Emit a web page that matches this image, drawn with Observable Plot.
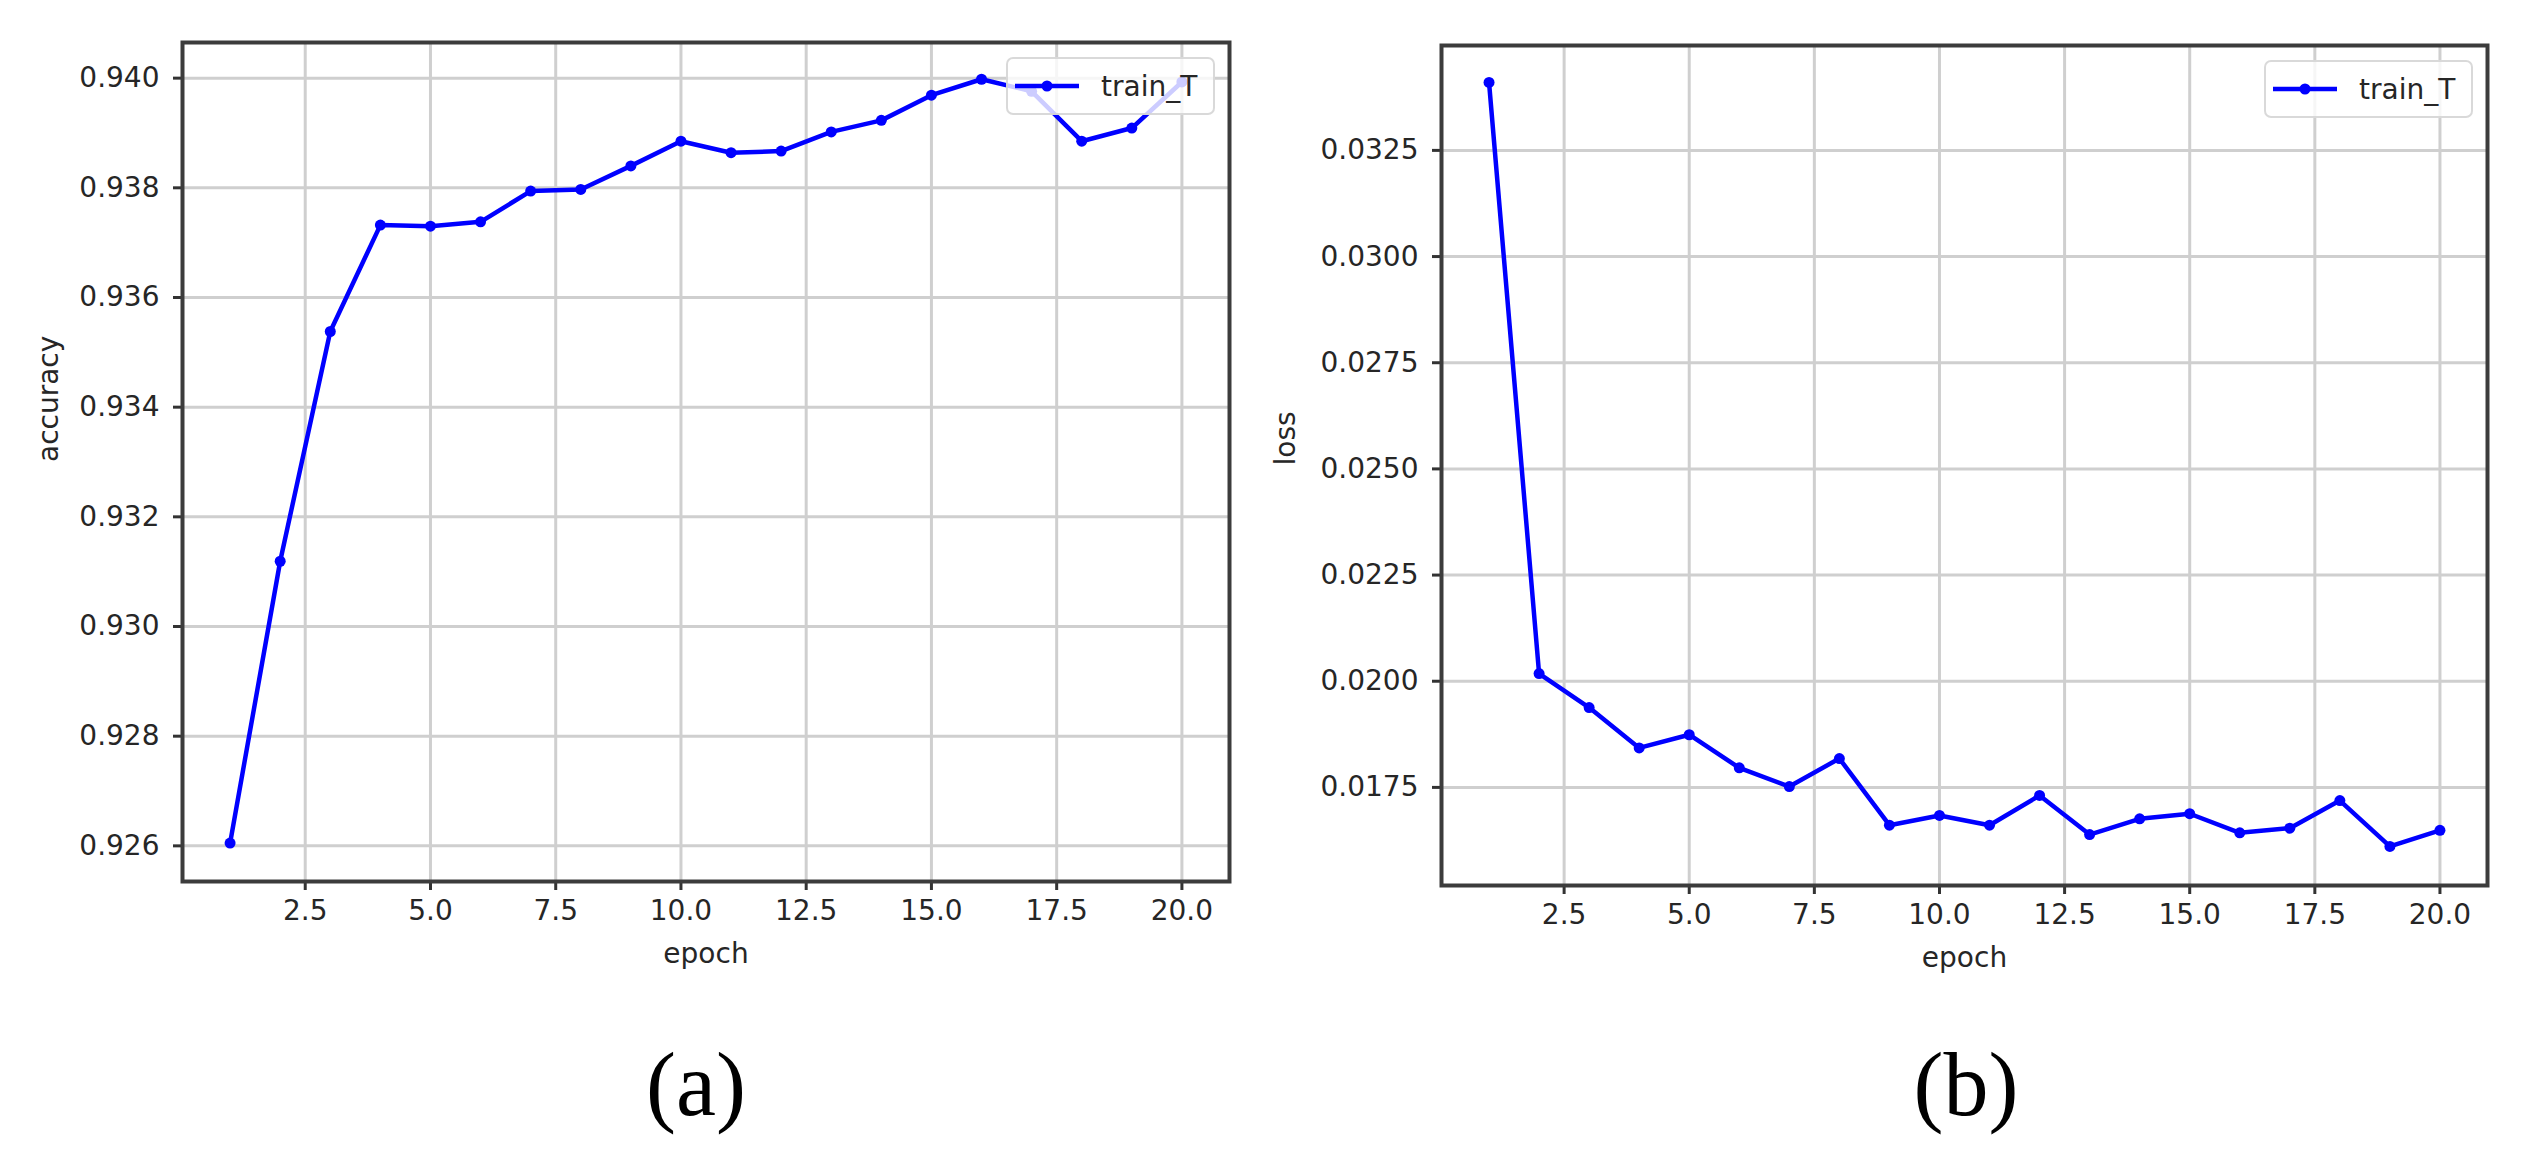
<!DOCTYPE html>
<html>
<head>
<meta charset="utf-8">
<script src="https://cdn.jsdelivr.net/npm/d3@7"></script>
<script src="https://cdn.jsdelivr.net/npm/@observablehq/plot@0.6"></script>
<style>
html, body { margin: 0; padding: 0; background: #fff; overflow: hidden; }
#page { position: relative; width: 2528px; height: 1153px; overflow: hidden; font-family: "DejaVu Sans", sans-serif; }
.panel { position: absolute; top: 0; }
.legend { position: absolute; box-sizing: border-box; background: rgba(255,255,255,0.8); border: 2px solid rgba(210,210,210,0.85); border-radius: 7px; display: flex; align-items: center; font: 28px "DejaVu Sans", sans-serif; color: #262626; }
.caption { position: absolute; font-family: "Liberation Serif", "Times New Roman", serif; font-size: 90px; line-height: 90px; color: #000; transform: translateX(-50%); white-space: nowrap; }
</style>
</head>
<body>
<div id="page"></div>
<script>
// ---- data ----
const epochs = [1, 2, 3, 4, 5, 6, 7, 8, 9, 10, 11, 12, 13, 14, 15, 16, 17, 18, 19, 20];
const accuracy = [0.92605, 0.93119, 0.93538, 0.93732, 0.93730, 0.93738, 0.93794, 0.93797, 0.93840, 0.93885,
                  0.93864, 0.93867, 0.93902, 0.93923, 0.93969, 0.93998, 0.93976, 0.93885, 0.93909, 0.93993];
const loss = [0.03410, 0.02018, 0.01938, 0.01843, 0.01874, 0.01796, 0.01752, 0.01818, 0.01661, 0.01684,
              0.01661, 0.01731, 0.01639, 0.01676, 0.01688, 0.01643, 0.01654, 0.01719, 0.01611, 0.01649];
const xTicks = [2.5, 5.0, 7.5, 10.0, 12.5, 15.0, 17.5, 20.0];
const accTicks = [0.926, 0.928, 0.930, 0.932, 0.934, 0.936, 0.938, 0.940];
const lossTicks = [0.0175, 0.0200, 0.0225, 0.0250, 0.0275, 0.0300, 0.0325];
const seriesName = "train_T";
const xLabel = "epoch";
const yLabels = ["accuracy", "loss"];
const captions = ["(a)", "(b)"];

const page = document.getElementById("page");
const BLUE = "#0000ff";
const TEXT = "#262626";
const GRID = "#cfcfcf";

function panel(cfg) {
  const data = epochs.map((e, i) => ({epoch: e, value: cfg.values[i]}));
  const chart = Plot.plot({
    width: cfg.width, height: cfg.height,
    marginLeft: cfg.mL, marginRight: cfg.mR, marginTop: cfg.mT, marginBottom: cfg.mB,
    style: {fontFamily: "DejaVu Sans, sans-serif", fontSize: "28px", color: TEXT, background: "transparent", overflow: "visible"},
    x: {domain: [0.05, 20.95]},
    y: {domain: cfg.yDomain},
    marks: [
      Plot.gridX(xTicks, {stroke: GRID, strokeOpacity: 1, strokeWidth: 3}),
      Plot.gridY(cfg.yTicks, {stroke: GRID, strokeOpacity: 1, strokeWidth: 3}),
      Plot.axisX(xTicks, {tickFormat: d => d.toFixed(1), tickSize: 9, tickPadding: 10, strokeWidth: 3, stroke: "#333", label: null, fontSize: 28, fill: TEXT}),
      Plot.axisY(cfg.yTicks, {tickFormat: cfg.yFmt, tickSize: 9, tickPadding: 14, strokeWidth: 3, stroke: "#333", label: null, fontSize: 28, fill: TEXT}),
      Plot.line(data, {x: "epoch", y: "value", stroke: BLUE, strokeWidth: 4.5}),
      Plot.dot(data, {x: "epoch", y: "value", fill: BLUE, r: 5.5}),
      Plot.frame({stroke: "#3c3c3c", strokeWidth: 4}),
      Plot.text([cfg.yLabel], {text: d => d, frameAnchor: "left", dx: cfg.yLabelDx, rotate: -90, fontSize: 28, fill: TEXT}),
      Plot.text([xLabel], {text: d => d, frameAnchor: "bottom", dy: 81, fontSize: 28, fill: TEXT})
    ]
  });
  const wrap = document.createElement("div");
  wrap.className = "panel";
  wrap.style.left = cfg.left + "px";
  wrap.appendChild(chart);
  page.appendChild(wrap);

  // legend (upper right inside the axes)
  const lg = document.createElement("div");
  lg.className = "legend";
  const lgW = 209, lgH = 58;
  lg.style.left = (cfg.left + cfg.width - cfg.mR - 14 - lgW) + "px";
  lg.style.top = (cfg.mT + 15) + "px";
  lg.style.width = lgW + "px";
  lg.style.height = lgH + "px";
  lg.style.paddingLeft = "7px";
  lg.innerHTML = `<svg width="64" height="16" style="display:block"><line x1="0" x2="64" y1="8" y2="8" stroke="${BLUE}" stroke-width="4.5"/><circle cx="32" cy="8" r="5.5" fill="${BLUE}"/></svg><span style="margin-left:22px">${seriesName}</span>`;
  page.appendChild(lg);

  // caption below
  const cap = document.createElement("div");
  cap.className = "caption";
  cap.textContent = cfg.caption;
  cap.style.left = cfg.captionX + "px";
  cap.style.top = "1040px";
  page.appendChild(cap);
}

panel({
  values: accuracy, yTicks: accTicks, yFmt: d => d.toFixed(3), yDomain: [0.92535, 0.94065],
  yLabel: yLabels[0], yLabelDx: -133,
  left: 0, width: 1264, height: 1000, mL: 182, mR: 35, mT: 42, mB: 119,
  caption: captions[0], captionX: 696
});

panel({
  values: loss, yTicks: lossTicks, yFmt: d => d.toFixed(4), yDomain: [0.01519, 0.03497],
  yLabel: yLabels[1], yLabelDx: -155,
  left: 1264, width: 1264, height: 1000, mL: 177, mR: 41, mT: 45, mB: 115,
  caption: captions[1], captionX: 1966
});
</script>
</body>
</html>
